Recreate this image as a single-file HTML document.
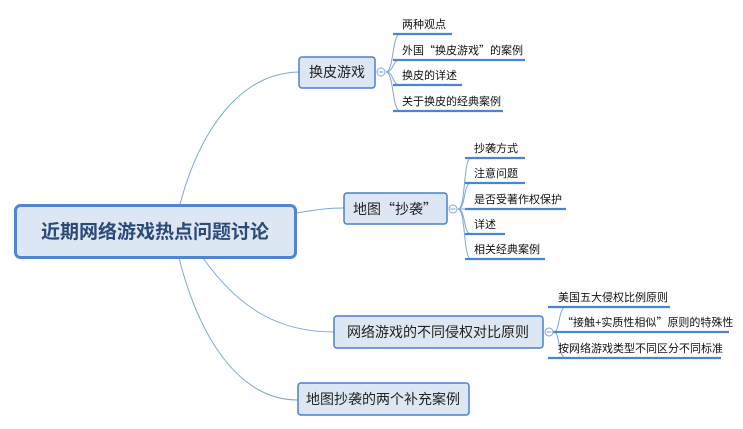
<!DOCTYPE html>
<html><head><meta charset="utf-8"><style>
html,body{margin:0;padding:0;background:#fff;}
svg{display:block;font-family:"Liberation Sans","Noto Sans CJK SC",sans-serif;}
.q{font-family:"Noto Sans CJK SC",sans-serif;}
</style></head><body>
<svg width="743" height="429" viewBox="0 0 743 429" xmlns="http://www.w3.org/2000/svg">
<g fill="none" stroke="#7ea6dc" stroke-width="1">
<path d="M180 204 C200 130 240 73 299 72"/>
<path d="M296 213 C315 210 325 208 344 208"/>
<path d="M203 258 C240 310 280 332 334 332"/>
<path d="M179 258 C200 340 240 400 298 400"/>
<path d="M386 72 C394 72 392 34 400 34"/>
<path d="M386 72 C394 72 392 60 400 60"/>
<path d="M386 72 C394 72 392 85 400 85"/>
<path d="M386 72 C394 72 392 111 400 111"/>
<path d="M458 209 C466 209 463 158 471 158"/>
<path d="M458 209 C466 209 463 183 471 183"/>
<path d="M458 209 L471 209"/>
<path d="M458 209 C466 209 463 234 471 234"/>
<path d="M458 209 C466 209 463 259 471 259"/>
<path d="M554 332 C560 332 558 307 566 307"/>
<path d="M554 332 L566 332"/>
<path d="M554 332 C560 332 558 358 566 358"/>
</g>
<g stroke="#4a86d0" stroke-width="2.2">
<line x1="393" y1="34" x2="452" y2="34"/>
<line x1="393" y1="60" x2="525" y2="60"/>
<line x1="393" y1="85" x2="462" y2="85"/>
<line x1="393" y1="111" x2="503" y2="111"/>
<line x1="465" y1="158" x2="525" y2="158"/>
<line x1="465" y1="183" x2="525" y2="183"/>
<line x1="465" y1="209" x2="566" y2="209"/>
<line x1="465" y1="234" x2="505" y2="234"/>
<line x1="465" y1="259" x2="545" y2="259"/>
<line x1="548" y1="307" x2="670" y2="307"/>
<line x1="548" y1="332" x2="729" y2="332"/>
<line x1="548" y1="358" x2="721" y2="358"/>
</g>
<rect x="15.5" y="205.5" width="280" height="52" rx="5" fill="#dde7f3" stroke="#4f86cf" stroke-width="3"/>
<text x="155" y="238" font-size="19" font-weight="bold" fill="#2b4a78" text-anchor="middle">近期网络游戏热点问题讨论</text>
<g fill="#dde7f3" stroke="#4a80c8" stroke-width="1.5">
<rect x="299" y="57" width="76" height="31" rx="3"/>
<rect x="344" y="193" width="103" height="31" rx="3"/>
<rect x="334" y="316" width="209" height="32" rx="3"/>
<rect x="298" y="383" width="171" height="32" rx="3"/>
</g>
<g fill="#fff" stroke="#7ea6dc" stroke-width="1">
<circle cx="381" cy="72" r="4"/>
<circle cx="453" cy="209" r="4"/>
<circle cx="549" cy="332" r="4"/>
</g>
<g stroke="#7ea6dc" stroke-width="1">
<line x1="378.5" y1="72" x2="383.5" y2="72"/>
<line x1="450.5" y1="209" x2="455.5" y2="209"/>
<line x1="546.5" y1="332" x2="551.5" y2="332"/>
</g>
<g font-size="14" fill="#222" text-anchor="middle">
<text x="337" y="77">换皮游戏</text>
<text x="395" y="214">地图<tspan class="q">“</tspan>抄袭<tspan class="q">”</tspan></text>
<text x="438" y="337">网络游戏的不同侵权对比原则</text>
<text x="383" y="404">地图抄袭的两个补充案例</text>
</g>
<g font-size="11" fill="#111">
<text x="402" y="28">两种观点</text>
<text x="402" y="54">外国<tspan class="q">“</tspan>换皮游戏<tspan class="q">”</tspan>的案例</text>
<text x="402" y="79">换皮的详述</text>
<text x="402" y="105">关于换皮的经典案例</text>
<text x="474" y="152">抄袭方式</text>
<text x="474" y="177">注意问题</text>
<text x="474" y="203">是否受著作权保护</text>
<text x="474" y="228">详述</text>
<text x="474" y="253">相关经典案例</text>
<text x="558" y="301">美国五大侵权比例原则</text>
<text x="562" y="326"><tspan class="q">“</tspan>接触+实质性相似<tspan class="q">”</tspan>原则的特殊性</text>
<text x="558" y="352">按网络游戏类型不同区分不同标准</text>
</g>
</svg>
</body></html>
